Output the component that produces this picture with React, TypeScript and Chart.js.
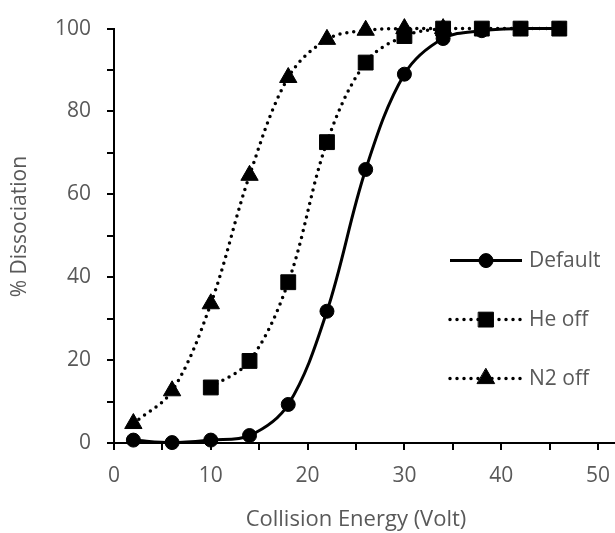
import React, { useEffect, useRef } from 'react';
import { Chart, registerables } from 'chart.js';
import { drawPoint } from 'chart.js/helpers';

Chart.register(...registerables);

// ---- data ----
const defaultLabel = 'Default';
const defaultX = [2, 6, 10, 14, 18, 22, 26, 30, 34, 38, 42, 46];
const defaultY = [0.7, 0.1, 0.7, 1.8, 9.3, 31.8, 66, 89, 97.6, 99.5, 100, 100];

const heOffLabel = 'He off';
const heOffX = [10, 14, 18, 22, 26, 30, 34, 38, 42, 46];
const heOffY = [13.4, 19.8, 38.8, 72.6, 91.8, 98.2, 100, 100, 100, 100];

const n2OffLabel = 'N2 off';
const n2OffX = [2, 6, 10, 14, 18, 22, 26, 30, 34];
const n2OffY = [4.7, 12.6, 33.6, 64.6, 88.2, 97.4, 99.6, 100, 100];

const xTitle = 'Collision Energy (Volt)';
const yTitle = '% Dissociation';

const FONT = "'Open Sans', sans-serif";
const GREY = '#595959';

const extrasPlugin = {
  id: 'extras',
  afterDraw(chart: any) {
    const ctx = chart.ctx;
    const area = chart.chartArea;
    // axis line continues to the right edge
    ctx.save();
    ctx.strokeStyle = '#000';
    ctx.lineWidth = 2;
    ctx.beginPath();
    ctx.moveTo(area.right - 1, area.bottom);
    ctx.lineTo(chart.width, area.bottom);
    ctx.stroke();
    ctx.restore();

    // y-axis title
    ctx.save();
    ctx.translate(20, area.top + 198);
    ctx.rotate(-Math.PI / 2);
    ctx.fillStyle = GREY;
    ctx.font = `21px ${FONT}`;
    ctx.textAlign = 'center';
    ctx.textBaseline = 'middle';
    ctx.fillText(yTitle, 0, 0);
    ctx.restore();

    // legend
    const x0 = area.left + 336;
    const x1 = area.left + 408;
    const xm = (x0 + x1) / 2;
    chart.data.datasets.forEach((ds: any, i: number) => {
      const y = area.top + 232 + i * 59;
      ctx.save();
      ctx.strokeStyle = '#000';
      ctx.lineWidth = ds.borderWidth;
      ctx.lineCap = ds.borderCapStyle;
      ctx.setLineDash(ds.borderDash || []);
      ctx.beginPath();
      ctx.moveTo(x0, y);
      ctx.lineTo(x1, y);
      ctx.stroke();
      ctx.setLineDash([]);
      ctx.fillStyle = '#000';
      ctx.lineWidth = 1;
      drawPoint(ctx, { pointStyle: ds.pointStyle, radius: ds.pointRadius, rotation: 0, borderWidth: 1 } as any, xm, y);
      ctx.fillStyle = GREY;
      ctx.font = `21px ${FONT}`;
      ctx.textBaseline = 'middle';
      ctx.textAlign = 'left';
      ctx.fillText(ds.label, x1 + 7, y);
      ctx.restore();
    });
  },
};

function makeSet(label: string, xs: number[], ys: number[], style: string, radius: number, dotted: boolean) {
  return {
    label,
    data: xs.map((x, i) => ({ x, y: ys[i] })),
    borderColor: '#000',
    backgroundColor: '#000',
    borderWidth: dotted ? 3.5 : 3,
    borderDash: dotted ? [0, 7] : [],
    borderCapStyle: dotted ? 'round' : 'butt',
    pointStyle: style,
    pointRadius: radius,
    pointBorderWidth: 1,
    pointBackgroundColor: '#000',
    pointBorderColor: '#000',
    showLine: true,
    tension: 0.35,
    fill: false,
    clip: false,
  };
}

export default function App() {
  const ref = useRef<HTMLCanvasElement>(null);
  useEffect(() => {
    if (!ref.current) return;
    const chart = new Chart(ref.current, {
      type: 'scatter',
      data: {
        datasets: [
          makeSet(defaultLabel, defaultX, defaultY, 'circle', 7, false),
          makeSet(heOffLabel, heOffX, heOffY, 'rect', 10.5, true),
          makeSet(n2OffLabel, n2OffX, n2OffY, 'triangle', 10, true),
        ] as any,
      },
      options: {
        animation: false,
        responsive: false,
        layout: { padding: { top: 23, right: 17, left: 0, bottom: 0 } },
        plugins: { legend: { display: false }, tooltip: { enabled: false } },
        scales: {
          x: {
            type: 'linear',
            min: 0,
            max: 50,
            afterFit: (scale: any) => {
              scale.height = 90;
              scale.paddingRight = 0;
              scale.paddingLeft = 0;
            },
            grid: { drawOnChartArea: false, color: '#000', tickLength: 7, lineWidth: 2 },
            border: { color: '#000', width: 2 },
            ticks: {
              stepSize: 5,
              autoSkip: false,
              maxRotation: 0,
              padding: 13,
              color: GREY,
              font: { family: FONT, size: 21 },
              callback: (v: any) => (Number(v) % 10 === 0 ? String(v) : ''),
            },
            title: {
              display: true,
              text: xTitle,
              color: GREY,
              font: { family: FONT, size: 22 },
              padding: { top: 0, bottom: 0 },
            },
          },
          y: {
            type: 'linear',
            min: 0,
            max: 100,
            afterFit: (scale: any) => {
              scale.width = 114;
            },
            grid: { drawOnChartArea: false, color: '#000', tickLength: 7, lineWidth: 2 },
            border: { color: '#000', width: 2 },
            ticks: {
              stepSize: 10,
              padding: 16,
              color: GREY,
              font: { family: FONT, size: 21 },
              callback: (v: any) => (Number(v) % 20 === 0 ? String(v) : ''),
            },
          },
        },
      },
      plugins: [extrasPlugin],
    });
    return () => chart.destroy();
  }, []);
  return (
    <div style={{ position: 'absolute', left: 0, top: 0, width: 615, height: 533, background: '#fff' }}>
      <canvas ref={ref} width={615} height={533} style={{ width: 615, height: 533 }} />
    </div>
  );
}
